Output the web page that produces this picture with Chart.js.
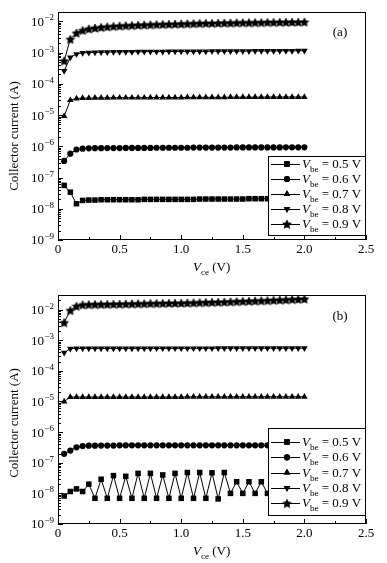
<!DOCTYPE html>
<html>
<head>
<meta charset="utf-8">
<script src="https://cdn.jsdelivr.net/npm/chart.js@4.4.0/dist/chart.umd.min.js"></script>
<style>
  body { margin: 0; background: #fff; }
  canvas { display: block; }
</style>
</head>
<body>
<canvas id="chartA" width="387" height="280"></canvas>
<canvas id="chartB" width="387" height="283"></canvas>
<script>
// V_ce sweep (V)
const vce = [0.05, 0.1, 0.15, 0.2, 0.25, 0.3, 0.35, 0.4, 0.45, 0.5,
  0.55, 0.6, 0.65, 0.7, 0.75, 0.8, 0.85, 0.9, 0.95, 1.0,
  1.05, 1.1, 1.15, 1.2, 1.25, 1.3, 1.35, 1.4, 1.45, 1.5,
  1.55, 1.6, 1.65, 1.7, 1.75, 1.8, 1.85, 1.9, 1.95, 2.0];
const vbe = ["0.5", "0.6", "0.7", "0.8", "0.9"];
const xTicks = [0, 0.5, 1.0, 1.5, 2.0, 2.5];
const yExps = [-9, -8, -7, -6, -5, -4, -3, -2];

// panel (a) collector current (A)
const icA05 = [5.6e-8, 3.4e-8, 1.45e-8, 1.85e-8, 1.9e-8, 1.9e-8, 1.95e-8, 1.95e-8, 1.95e-8, 1.95e-8,
  1.95e-8, 1.95e-8, 1.95e-8, 2.0e-8, 2.0e-8, 2.0e-8, 2.0e-8, 2.0e-8, 2.0e-8, 2.0e-8,
  2.0e-8, 2.0e-8, 2.05e-8, 2.05e-8, 2.05e-8, 2.05e-8, 2.05e-8, 2.05e-8, 2.05e-8, 2.05e-8,
  2.1e-8, 2.1e-8, 2.1e-8, 2.1e-8, 2.1e-8, 2.1e-8, 2.1e-8, 2.1e-8, 2.1e-8, 2.1e-8];
const icA06 = [3.4e-7, 5.8e-7, 7.9e-7, 8.4e-7, 8.6e-7, 8.7e-7, 8.7e-7, 8.8e-7, 8.8e-7, 8.8e-7,
  8.9e-7, 8.9e-7, 8.9e-7, 8.9e-7, 8.9e-7, 9.0e-7, 9.0e-7, 9.0e-7, 9.0e-7, 9.0e-7,
  9.0e-7, 9.1e-7, 9.1e-7, 9.1e-7, 9.1e-7, 9.1e-7, 9.1e-7, 9.1e-7, 9.2e-7, 9.2e-7,
  9.2e-7, 9.2e-7, 9.2e-7, 9.2e-7, 9.2e-7, 9.2e-7, 9.3e-7, 9.3e-7, 9.3e-7, 9.3e-7];
const icA07 = [9.2e-6, 3.0e-5, 3.4e-5, 3.5e-5, 3.5e-5, 3.55e-5, 3.55e-5, 3.55e-5, 3.6e-5, 3.6e-5,
  3.6e-5, 3.6e-5, 3.6e-5, 3.6e-5, 3.65e-5, 3.65e-5, 3.65e-5, 3.65e-5, 3.65e-5, 3.65e-5,
  3.7e-5, 3.7e-5, 3.7e-5, 3.7e-5, 3.7e-5, 3.7e-5, 3.7e-5, 3.75e-5, 3.75e-5, 3.75e-5,
  3.75e-5, 3.75e-5, 3.75e-5, 3.8e-5, 3.8e-5, 3.8e-5, 3.8e-5, 3.8e-5, 3.8e-5, 3.8e-5];
const icA08 = [2.6e-4, 7.0e-4, 9.0e-4, 9.8e-4, 1.0e-3, 1.02e-3, 1.03e-3, 1.04e-3, 1.05e-3, 1.05e-3,
  1.06e-3, 1.06e-3, 1.07e-3, 1.07e-3, 1.08e-3, 1.08e-3, 1.08e-3, 1.09e-3, 1.09e-3, 1.09e-3,
  1.1e-3, 1.1e-3, 1.1e-3, 1.1e-3, 1.11e-3, 1.11e-3, 1.11e-3, 1.12e-3, 1.12e-3, 1.12e-3,
  1.12e-3, 1.13e-3, 1.13e-3, 1.13e-3, 1.13e-3, 1.14e-3, 1.14e-3, 1.14e-3, 1.15e-3, 1.15e-3];
const icA09 = [5.5e-4, 2.7e-3, 4.3e-3, 5.2e-3, 5.8e-3, 6.2e-3, 6.5e-3, 6.8e-3, 7.0e-3, 7.2e-3,
  7.4e-3, 7.5e-3, 7.7e-3, 7.8e-3, 7.9e-3, 8.0e-3, 8.1e-3, 8.2e-3, 8.3e-3, 8.4e-3,
  8.5e-3, 8.6e-3, 8.7e-3, 8.8e-3, 8.8e-3, 8.9e-3, 9.0e-3, 9.0e-3, 9.1e-3, 9.2e-3,
  9.2e-3, 9.3e-3, 9.3e-3, 9.4e-3, 9.4e-3, 9.5e-3, 9.5e-3, 9.6e-3, 9.6e-3, 9.7e-3];

// panel (b) collector current (A)
const icB05 = [8.2e-9, 1.15e-8, 1.4e-8, 1.15e-8, 2.0e-8, 6.9e-9, 2.9e-8, 6.9e-9, 3.8e-8, 6.9e-9,
  3.6e-8, 6.9e-9, 4.5e-8, 6.9e-9, 4.5e-8, 6.9e-9, 4.0e-8, 6.9e-9, 4.5e-8, 6.9e-9,
  4.8e-8, 6.9e-9, 4.8e-8, 6.9e-9, 4.7e-8, 6.6e-9, 4.8e-8, 1.0e-8, 2.4e-8, 1.0e-8,
  2.4e-8, 1.0e-8, 2.4e-8, 1.0e-8, 2.4e-8, 1.0e-8, 2.4e-8, 1.0e-8, 2.4e-8, 1.0e-8];
const icB06 = [1.95e-7, 2.5e-7, 3.2e-7, 3.5e-7, 3.6e-7, 3.6e-7, 3.65e-7, 3.65e-7, 3.65e-7, 3.7e-7,
  3.7e-7, 3.7e-7, 3.7e-7, 3.7e-7, 3.7e-7, 3.7e-7, 3.7e-7, 3.7e-7, 3.7e-7, 3.7e-7,
  3.7e-7, 3.7e-7, 3.7e-7, 3.7e-7, 3.7e-7, 3.7e-7, 3.7e-7, 3.7e-7, 3.7e-7, 3.7e-7,
  3.7e-7, 3.7e-7, 3.7e-7, 3.7e-7, 3.7e-7, 3.7e-7, 3.7e-7, 3.7e-7, 3.7e-7, 3.7e-7];
const icB07 = [1.0e-5, 1.4e-5, 1.4e-5, 1.4e-5, 1.4e-5, 1.4e-5, 1.4e-5, 1.4e-5, 1.4e-5, 1.4e-5,
  1.4e-5, 1.4e-5, 1.4e-5, 1.4e-5, 1.4e-5, 1.4e-5, 1.4e-5, 1.4e-5, 1.4e-5, 1.4e-5,
  1.42e-5, 1.42e-5, 1.42e-5, 1.42e-5, 1.42e-5, 1.42e-5, 1.42e-5, 1.42e-5, 1.42e-5, 1.42e-5,
  1.43e-5, 1.43e-5, 1.43e-5, 1.43e-5, 1.43e-5, 1.43e-5, 1.43e-5, 1.43e-5, 1.43e-5, 1.43e-5];
const icB08 = [3.9e-4, 5.3e-4, 5.4e-4, 5.4e-4, 5.4e-4, 5.4e-4, 5.4e-4, 5.4e-4, 5.4e-4, 5.4e-4,
  5.4e-4, 5.4e-4, 5.4e-4, 5.4e-4, 5.4e-4, 5.45e-4, 5.45e-4, 5.45e-4, 5.45e-4, 5.45e-4,
  5.45e-4, 5.45e-4, 5.45e-4, 5.45e-4, 5.45e-4, 5.5e-4, 5.5e-4, 5.5e-4, 5.5e-4, 5.5e-4,
  5.5e-4, 5.5e-4, 5.5e-4, 5.5e-4, 5.5e-4, 5.5e-4, 5.5e-4, 5.5e-4, 5.5e-4, 5.5e-4];
const icB09 = [3.8e-3, 9.5e-3, 1.3e-2, 1.45e-2, 1.47e-2, 1.49e-2, 1.5e-2, 1.51e-2, 1.52e-2, 1.53e-2,
  1.55e-2, 1.56e-2, 1.57e-2, 1.58e-2, 1.6e-2, 1.61e-2, 1.62e-2, 1.63e-2, 1.64e-2, 1.65e-2,
  1.67e-2, 1.69e-2, 1.71e-2, 1.73e-2, 1.75e-2, 1.77e-2, 1.79e-2, 1.82e-2, 1.85e-2, 1.88e-2,
  1.91e-2, 1.94e-2, 1.97e-2, 2.0e-2, 2.04e-2, 2.08e-2, 2.12e-2, 2.16e-2, 2.2e-2, 2.25e-2];

const serif = '"Liberation Serif", "Times New Roman", serif';

function makeStar(r) {
  const c = document.createElement("canvas");
  const s = Math.ceil(2 * r + 2);
  c.width = s; c.height = s;
  const g = c.getContext("2d");
  g.translate(s / 2, s / 2 + 0.6);
  g.beginPath();
  for (let i = 0; i < 10; i++) {
    const rad = i % 2 ? r * 0.5 : r;
    const a = -Math.PI / 2 + i * Math.PI / 5;
    g.lineTo(rad * Math.cos(a), rad * Math.sin(a));
  }
  g.closePath();
  g.fillStyle = "#000";
  g.fill();
  g.strokeStyle = "#000";
  g.lineWidth = 0.6;
  g.stroke();
  return c;
}
const star = makeStar(4.6);
const markStyle = ["rect", "circle", "triangle", "triangle", star];
const markRot = [0, 0, 0, 180, 0];
const markRad = [3.9, 3.1, 3.8, 3.8, 4];

function drawSub(ctx, x, y, main, sub, rest, size) {
  // italic main letter, subscript, then plain rest
  ctx.textBaseline = "alphabetic";
  ctx.textAlign = "left";
  ctx.font = "italic " + size + "px " + serif;
  ctx.fillText(main, x, y);
  x += ctx.measureText(main).width;
  ctx.font = (size * 0.7) + "px " + serif;
  ctx.fillText(sub, x, y + 4);
  x += ctx.measureText(sub).width;
  ctx.font = size + "px " + serif;
  ctx.fillText(rest, x, y);
}

function frame(cfg) {
  return {
    id: "frame",
    afterDraw(chart) {
      const { ctx, chartArea: a, scales: { x, y } } = chart;
      ctx.save();
      ctx.strokeStyle = "#000";
      ctx.fillStyle = "#000";
      ctx.lineWidth = 1;
      ctx.strokeRect(a.left + 0.5, a.top + 0.5, a.right - a.left - 1, a.bottom - a.top - 1);

      // x ticks (inward) and labels
      ctx.beginPath();
      for (let v = 0; v <= 2.5001; v += 0.25) {
        const px = Math.round(x.getPixelForValue(v)) + 0.5;
        const major = Math.abs(v * 2 - Math.round(v * 2)) < 1e-6;
        ctx.moveTo(px, a.bottom);
        ctx.lineTo(px, a.bottom - (major ? 5 : 3));
      }
      // y ticks (inward, left side)
      for (const e of yExps.concat([-1])) {
        for (let k = 1; k <= 9; k++) {
          const v = k * Math.pow(10, e);
          if (v < y.min || v > y.max) continue;
          const py = Math.round(y.getPixelForValue(v)) + 0.5;
          ctx.moveTo(a.left, py);
          ctx.lineTo(a.left + (k === 1 ? 5 : 3), py);
        }
      }
      ctx.stroke();

      ctx.font = "13px " + serif;
      ctx.textAlign = "center";
      ctx.textBaseline = "top";
      for (const v of xTicks) {
        ctx.fillText(v === 0 ? "0" : v.toFixed(1), x.getPixelForValue(v), a.bottom + 3);
      }
      for (const e of yExps) {
        const py = y.getPixelForValue(Math.pow(10, e));
        const sup = "\u2212" + (-e);
        ctx.font = "9px " + serif;
        const sw = ctx.measureText(sup).width;
        ctx.textAlign = "left";
        ctx.textBaseline = "alphabetic";
        ctx.fillText(sup, a.left - 4 - sw, py - 1);
        ctx.font = "13px " + serif;
        ctx.textAlign = "right";
        ctx.textBaseline = "middle";
        ctx.fillText("10", a.left - 4.5 - sw, py + 1);
      }

      // axis titles
      ctx.save();
      ctx.translate(15, cfg.yTitleY);
      ctx.rotate(-Math.PI / 2);
      ctx.font = "13px " + serif;
      ctx.textAlign = "center";
      ctx.textBaseline = "middle";
      ctx.fillText("Collector current (A)", 0, 0);
      ctx.restore();
      drawSub(ctx, 193, a.bottom + 31, "V", "ce", " (V)", 13);

      // panel tag
      ctx.font = "13px " + serif;
      ctx.textAlign = "center";
      ctx.textBaseline = "middle";
      ctx.fillText(cfg.tag, 340, a.top + cfg.tagDy);

      // legend box over the data
      const lx = 268, lw = a.right - lx - 1;
      const lt = cfg.legTop, lb = a.bottom - cfg.legGap;
      ctx.fillStyle = "#fff";
      ctx.fillRect(lx, lt, lw, lb - lt);
      ctx.strokeRect(lx + 0.5, lt + 0.5, lw, lb - lt);
      ctx.fillStyle = "#000";
      vbe.forEach((lab, i) => {
        const cy = lt + cfg.legFirst + i * cfg.legStep;
        ctx.beginPath();
        ctx.moveTo(lx + 3, Math.round(cy) + 0.5);
        ctx.lineTo(lx + 32, Math.round(cy) + 0.5);
        ctx.stroke();
        Chart.helpers.drawPoint(ctx, {
          pointStyle: markStyle[i], rotation: markRot[i], radius: markRad[i], borderWidth: 0
        }, lx + 19, cy);
        ctx.fill();
        drawSub(ctx, lx + 34, cy + 4, "V", "be", " = " + lab + " V", 13);
      });
      ctx.restore();
    }
  };
}

function build(id, series, ymax, cfg, pad) {
  const datasets = series.map((s, i) => ({
    label: "Vbe = " + vbe[i] + " V",
    data: vce.map((v, j) => ({ x: v, y: s[j] })),
    showLine: true,
    borderColor: "#000",
    borderWidth: 1,
    pointStyle: markStyle[i],
    pointRotation: markRot[i],
    pointRadius: markRad[i],
    pointBorderWidth: 0,
    pointBackgroundColor: "#000",
    pointBorderColor: "#000",
    tension: 0
  }));
  return new Chart(document.getElementById(id), {
    type: "scatter",
    data: { datasets },
    options: {
      responsive: false,
      animation: false,
      devicePixelRatio: 1,
      layout: { padding: pad },
      plugins: { legend: { display: false }, tooltip: { enabled: false } },
      scales: {
        x: { type: "linear", min: 0, max: 2.5, display: false },
        y: { type: "logarithmic", min: 1e-9, max: ymax, display: false }
      }
    },
    plugins: [frame(cfg)]
  });
}

build("chartA", [icA05, icA06, icA07, icA08, icA09], 2e-2,
  { tag: "(a)", tagDy: 21, yTitleY: 136, legTop: 156, legGap: 5, legFirst: 8, legStep: 15 },
  { left: 58, right: 21, top: 12, bottom: 40 });
build("chartB", [icB05, icB06, icB07, icB08, icB09], 3e-2,
  { tag: "(b)", tagDy: 22, yTitleY: 143, legTop: 148, legGap: 9, legFirst: 14, legStep: 15.3 },
  { left: 58, right: 21, top: 15, bottom: 39 });
</script>
</body>
</html>
